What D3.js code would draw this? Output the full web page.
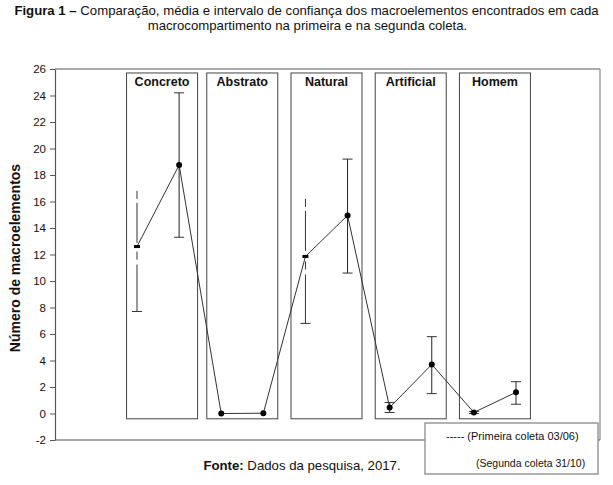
<!DOCTYPE html>
<html><head><meta charset="utf-8">
<script src="https://cdn.jsdelivr.net/npm/d3@7"></script>
<style>
body{margin:0;background:#fff;}
svg{display:block;font-family:"Liberation Sans",Arial,sans-serif;}
</style></head>
<body>
<svg id="c" width="613" height="485"></svg>
<script>
const compartments = ["Concreto","Abstrato","Natural","Artificial","Homem"];
// Primeira coleta (03/06)
const mean1 = [12.6, 0.0, 11.85, 0.45, 0.08];
const low1  = [7.7, 0.0, 6.8, 0.08, 0.0];
const high1 = [16.8, 0.0, 16.2, 0.83, 0.15];
// Segunda coleta (31/10)
const mean2 = [18.75, 0.02, 14.95, 3.7, 1.6];
const low2  = [13.3, 0.0, 10.6, 1.5, 0.7];
const high2 = [24.2, 0.0, 19.2, 5.8, 2.4];
const yTicks = [-2,0,2,4,6,8,10,12,14,16,18,20,22,24,26];

const svg = d3.select("#c");
const W = 613, H = 485;
const plot = {left:55, right:600, top:69, bottom:440};

const y = d3.scaleLinear().domain([-2,26]).range([plot.bottom, plot.top]);
const x = d3.scaleLinear().domain([0,9]).range([137,516]);

const pts = [];
compartments.forEach((c,i)=>{
  pts.push({idx:2*i, m:mean1[i], lo:low1[i], hi:high1[i], s:1});
  pts.push({idx:2*i+1, m:mean2[i], lo:low2[i], hi:high2[i], s:2});
});

// title
const t = svg.append("text").attr("x",W/2).attr("y",15).attr("text-anchor","middle")
  .attr("font-size",13.2).attr("fill","#111");
t.append("tspan").attr("font-weight","bold").text("Figura 1 – ");
t.append("tspan").text("Comparação, média e intervalo de confiança dos macroelementos encontrados em cada");
svg.append("text").attr("x",W/2+1).attr("y",30).attr("text-anchor","middle")
  .attr("font-size",13.2).attr("fill","#111")
  .text("macrocompartimento na primeira e na segunda coleta.");

// frame
svg.append("line").attr("x1",plot.left).attr("x2",plot.right).attr("y1",plot.top).attr("y2",plot.top)
  .attr("stroke","#555").attr("stroke-width",1.2);
svg.append("line").attr("x1",plot.right).attr("x2",plot.right).attr("y1",plot.top).attr("y2",plot.bottom)
  .attr("stroke","#888").attr("stroke-width",1.2);
svg.append("line").attr("x1",plot.left).attr("x2",plot.right).attr("y1",plot.bottom).attr("y2",plot.bottom)
  .attr("stroke","#555").attr("stroke-width",1.2);

// y axis
const ax = svg.append("g").attr("transform",`translate(${plot.left},0)`)
  .call(d3.axisLeft(y).tickValues(yTicks).tickSize(5).tickPadding(4).tickSizeOuter(0)
    .tickFormat(d=>String(d)));
ax.select(".domain").attr("stroke","#555").attr("stroke-width",1.2);
ax.selectAll(".tick line").attr("stroke","#555");
ax.selectAll(".tick text").attr("font-size",11.5).attr("fill","#111")
  .attr("font-family","Liberation Sans, Arial, sans-serif");

svg.append("text").attr("transform",`translate(20,258) rotate(-90)`)
  .attr("text-anchor","middle").attr("font-size",14).attr("font-weight","bold").attr("fill","#111")
  .text("Número de macroelementos");

// compartment boxes
const boxW = 71;
const boxes = svg.append("g");
compartments.forEach((c,i)=>{
  const cx = x(2*i+0.5) + (i===0 ? 4 : 0);
  boxes.append("rect").attr("x",cx-boxW/2).attr("y",y(25.7)).attr("width",boxW)
    .attr("height",y(-0.4)-y(25.7)).attr("fill","none").attr("stroke","#444").attr("stroke-width",1);
  boxes.append("text").attr("x",cx).attr("y",y(25.7)+13).attr("text-anchor","middle")
    .attr("font-size",12.5).attr("font-weight","bold").attr("fill","#111").text(c);
});

// connecting line
svg.append("path").datum(pts)
  .attr("d", d3.line().x(d=>x(d.idx)).y(d=>y(d.m)))
  .attr("fill","none").attr("stroke","#333").attr("stroke-width",1);

// error bars
const cap = 5;
pts.forEach(d=>{
  const px = x(d.idx);
  if (d.hi - d.lo < 0.05) return;
  if (d.s===2) {
    svg.append("line").attr("x1",px).attr("x2",px).attr("y1",y(d.hi)).attr("y2",y(d.lo))
      .attr("stroke","#222").attr("stroke-width",1);
    [d.hi,d.lo].forEach(v=>svg.append("line").attr("x1",px-cap).attr("x2",px+cap)
      .attr("y1",y(v)).attr("y2",y(v)).attr("stroke","#333").attr("stroke-width",1));
  } else {
    const big = (d.hi-d.lo) > 2;
    svg.append("line").attr("x1",px).attr("x2",px).attr("y1",y(d.hi)).attr("y2",y(d.m))
      .attr("stroke","#333").attr("stroke-width",1).attr("stroke-dasharray", big ? "8,4,40,4" : null);
    svg.append("line").attr("x1",px).attr("x2",px).attr("y1",y(d.m)).attr("y2",y(d.lo))
      .attr("stroke","#333").attr("stroke-width",1).attr("stroke-dasharray", big ? "0,5,8,5,60" : null);
    const capVals = big ? [d.lo] : [d.hi,d.lo];
    capVals.forEach(v=>svg.append("line").attr("x1",px-cap).attr("x2",px+cap)
      .attr("y1",y(v)).attr("y2",y(v)).attr("stroke","#333").attr("stroke-width",1));
  }
});

// markers
svg.selectAll("circle.pt").data(pts).join("circle").attr("class","pt")
  .attr("cx",d=>x(d.idx)).attr("cy",d=>y(d.m)).attr("r",d=> d.s===1 && d.m>5 ? 0 : 3)
  .attr("fill","#000");
svg.selectAll("rect.pm").data(pts.filter(d=>d.s===1 && d.m>5)).join("rect").attr("class","pm")
  .attr("x",d=>x(d.idx)-3).attr("y",d=>y(d.m)-1.5).attr("width",6).attr("height",3).attr("fill","#000");

// legend
const lg = svg.append("g");
lg.append("rect").attr("x",425).attr("y",423).attr("width",173).attr("height",51)
  .attr("fill","#fff").attr("stroke","#999").attr("stroke-width",1.5);
lg.append("text").attr("x",446).attr("y",440).attr("font-size",11).attr("fill","#111")
  .text("----- (Primeira coleta 03/06)");
lg.append("text").attr("x",476).attr("y",467).attr("font-size",10.5).attr("fill","#111")
  .text("(Segunda coleta 31/10)");

// source
const f = svg.append("text").attr("x",302).attr("y",470).attr("text-anchor","middle")
  .attr("font-size",13.2).attr("fill","#111");
f.append("tspan").attr("font-weight","bold").text("Fonte:");
f.append("tspan").text(" Dados da pesquisa, 2017.");
</script>
</body></html>
